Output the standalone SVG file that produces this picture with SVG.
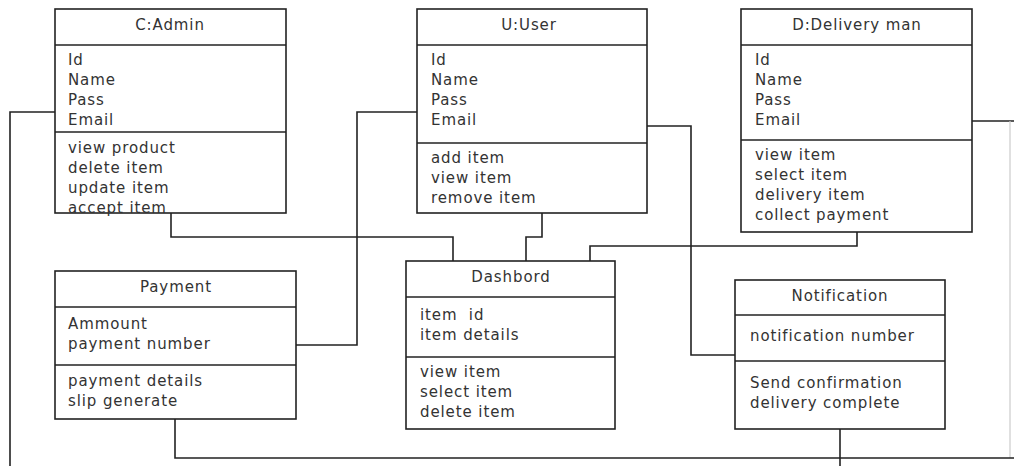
<svg xmlns="http://www.w3.org/2000/svg" width="1014" height="466" viewBox="0 0 1014 466">
<style>
.box{fill:#fff;stroke:#222;stroke-width:1.6}
.sep{stroke:#222;stroke-width:1.6}
.t{font-family:"DejaVu Sans","Liberation Sans",Arial,sans-serif;font-size:15px;letter-spacing:0.9px;fill:#333}
.c{text-anchor:middle}
.con{fill:none;stroke:#222;stroke-width:1.6}
.faint{fill:none;stroke:#ccc;stroke-width:1.2}
</style>
<rect width="1014" height="466" fill="#fff"/>
<g id="connectors">
<polyline class="con" points="55,112 10,112 10,466"/>
<polyline class="con" points="171,213 171,237 453,237 453,261"/>
<polyline class="con" points="417,112 357,112 357,345 296,345"/>
<polyline class="con" points="542,213 542,237 526,237 526,261"/>
<polyline class="con" points="647,126 691,126 691,355 735,355"/>
<polyline class="con" points="857,232 857,246 590,246 590,261"/>
<polyline class="con" points="972,121 1014,121"/>
<polyline class="faint" points="1010,121 1010,458"/>
<polyline class="con" points="175,419 175,458 1014,458"/>
<polyline class="con" points="840,429 840,466"/>
</g>
<g id="admin">
<rect class="box" x="55" y="9" width="231" height="204"/>
<line class="sep" x1="55" y1="45" x2="286" y2="45"/>
<line class="sep" x1="55" y1="132" x2="286" y2="132"/>
<text class="t c" x="170" y="30">C:Admin</text>
<text class="t" x="68" y="65">Id</text>
<text class="t" x="68" y="85">Name</text>
<text class="t" x="68" y="105">Pass</text>
<text class="t" x="68" y="125">Email</text>
<text class="t" x="68" y="153">view product</text>
<text class="t" x="68" y="173">delete item</text>
<text class="t" x="68" y="193">update item</text>
<text class="t" x="68" y="213">accept item</text>
</g>
<g id="user">
<rect class="box" x="417" y="9" width="230" height="204"/>
<line class="sep" x1="417" y1="45" x2="647" y2="45"/>
<line class="sep" x1="417" y1="143" x2="647" y2="143"/>
<text class="t c" x="529" y="30">U:User</text>
<text class="t" x="431" y="65">Id</text>
<text class="t" x="431" y="85">Name</text>
<text class="t" x="431" y="105">Pass</text>
<text class="t" x="431" y="125">Email</text>
<text class="t" x="431" y="163">add item</text>
<text class="t" x="431" y="183">view item</text>
<text class="t" x="431" y="203">remove item</text>
</g>
<g id="delivery">
<rect class="box" x="741" y="9" width="231" height="223"/>
<line class="sep" x1="741" y1="45" x2="972" y2="45"/>
<line class="sep" x1="741" y1="140" x2="972" y2="140"/>
<text class="t c" x="857" y="30">D:Delivery man</text>
<text class="t" x="755" y="65">Id</text>
<text class="t" x="755" y="85">Name</text>
<text class="t" x="755" y="105">Pass</text>
<text class="t" x="755" y="125">Email</text>
<text class="t" x="755" y="160">view item</text>
<text class="t" x="755" y="180">select item</text>
<text class="t" x="755" y="200">delivery item</text>
<text class="t" x="755" y="220">collect payment</text>
</g>
<g id="payment">
<rect class="box" x="55" y="271" width="241" height="148"/>
<line class="sep" x1="55" y1="307" x2="296" y2="307"/>
<line class="sep" x1="55" y1="365" x2="296" y2="365"/>
<text class="t c" x="176" y="292">Payment</text>
<text class="t" x="68" y="329">Ammount</text>
<text class="t" x="68" y="349">payment number</text>
<text class="t" x="68" y="386">payment details</text>
<text class="t" x="68" y="406">slip generate</text>
</g>
<g id="dashbord">
<rect class="box" x="406" y="261" width="209" height="168"/>
<line class="sep" x1="406" y1="297" x2="615" y2="297"/>
<line class="sep" x1="406" y1="357" x2="615" y2="357"/>
<text class="t c" x="511" y="282">Dashbord</text>
<text class="t" x="420" y="320" xml:space="preserve">item  id</text>
<text class="t" x="420" y="340">item details</text>
<text class="t" x="420" y="377">view item</text>
<text class="t" x="420" y="397">select item</text>
<text class="t" x="420" y="417">delete item</text>
</g>
<g id="notification">
<rect class="box" x="735" y="280" width="210" height="149"/>
<line class="sep" x1="735" y1="315" x2="945" y2="315"/>
<line class="sep" x1="735" y1="361" x2="945" y2="361"/>
<text class="t c" x="840" y="301">Notification</text>
<text class="t" x="750" y="341">notification number</text>
<text class="t" x="750" y="388">Send confirmation</text>
<text class="t" x="750" y="408">delivery complete</text>
</g>
</svg>
